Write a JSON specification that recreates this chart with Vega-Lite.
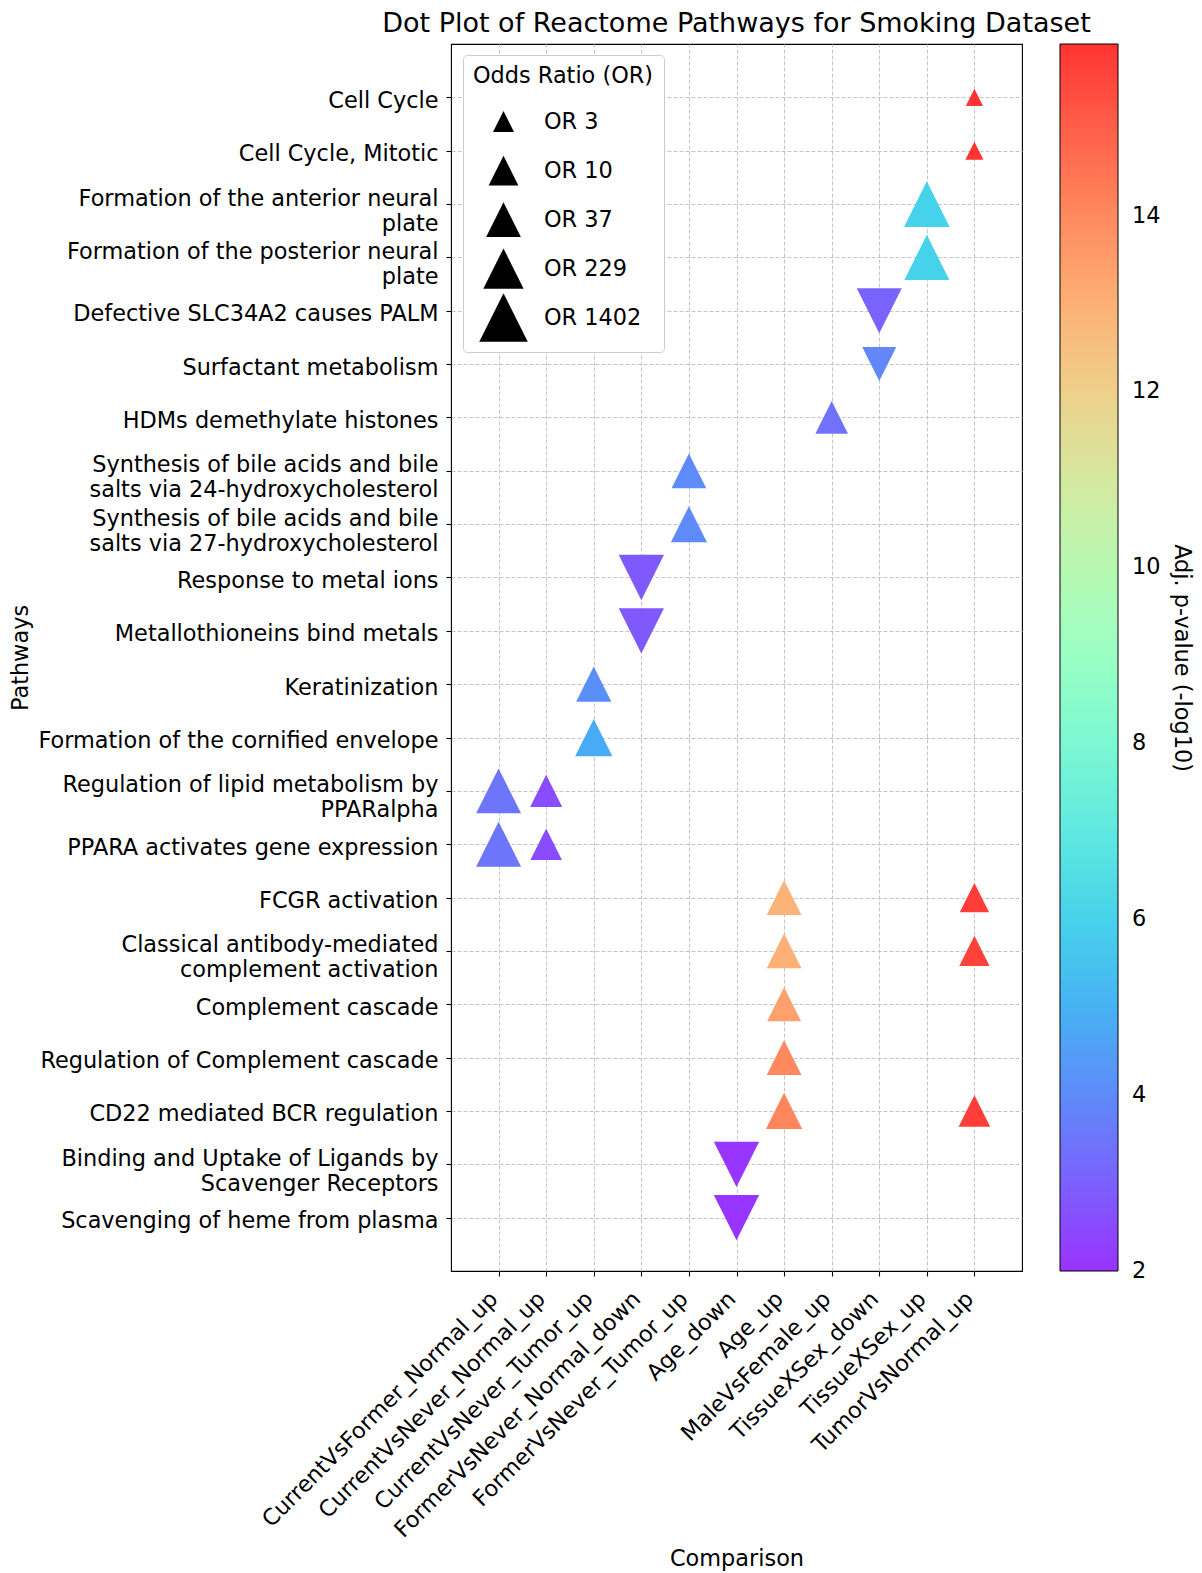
{
  "$schema": "https://vega.github.io/schema/vega-lite/v6.json",
  "autosize": "none",
  "width": 571,
  "height": 1227,
  "padding": {"left": 451, "top": 44, "right": 180, "bottom": 302},
  "background": "white",
  "title": {
    "text": "Dot Plot of Reactome Pathways for Smoking Dataset",
    "font": "DejaVu Sans",
    "fontSize": 27,
    "fontWeight": "normal",
    "color": "black",
    "anchor": "middle",
    "offset": 6
  },
  "config": {
    "view": {"stroke": "black", "strokeWidth": 1.1},
    "font": "DejaVu Sans",
    "axis": {
      "labelFont": "DejaVu Sans",
      "labelFontSize": 22.4,
      "labelColor": "black",
      "titleFont": "DejaVu Sans",
      "titleFontSize": 22.4,
      "titleFontWeight": "normal",
      "titleColor": "black",
      "domain": false,
      "tickColor": "black",
      "tickSize": 5,
      "tickWidth": 1.1,
      "grid": true,
      "gridColor": "#c4c4c4",
      "gridDash": [4, 2],
      "gridWidth": 1
    },
    "legend": {
      "labelFont": "DejaVu Sans",
      "titleFont": "DejaVu Sans",
      "labelColor": "black",
      "titleColor": "black",
      "gradientLabelOffset": 14
    }
  },
  "data": {
    "values": [
      {"pathway": "Cell Cycle", "comparison": "TumorVsNormal_up", "direction": "up", "odds_ratio": 2.0, "neg_log10_padj": 15.95},
      {"pathway": "Cell Cycle, Mitotic", "comparison": "TumorVsNormal_up", "direction": "up", "odds_ratio": 2.2, "neg_log10_padj": 15.9},
      {"pathway": "Formation of the anterior neural plate", "comparison": "TissueXSex_up", "direction": "up", "odds_ratio": 700, "neg_log10_padj": 6.0},
      {"pathway": "Formation of the posterior neural plate", "comparison": "TissueXSex_up", "direction": "up", "odds_ratio": 610, "neg_log10_padj": 6.0},
      {"pathway": "Defective SLC34A2 causes PALM", "comparison": "TissueXSex_down", "direction": "down", "odds_ratio": 600, "neg_log10_padj": 3.05},
      {"pathway": "Surfactant metabolism", "comparison": "TissueXSex_down", "direction": "down", "odds_ratio": 30, "neg_log10_padj": 3.9},
      {"pathway": "HDMs demethylate histones", "comparison": "MaleVsFemale_up", "direction": "up", "odds_ratio": 21, "neg_log10_padj": 3.4},
      {"pathway": "Synthesis of bile acids and bile salts via 24-hydroxycholesterol", "comparison": "FormerVsNever_Tumor_up", "direction": "up", "odds_ratio": 37, "neg_log10_padj": 4.0},
      {"pathway": "Synthesis of bile acids and bile salts via 27-hydroxycholesterol", "comparison": "FormerVsNever_Tumor_up", "direction": "up", "odds_ratio": 55, "neg_log10_padj": 4.0},
      {"pathway": "Response to metal ions", "comparison": "FormerVsNever_Normal_down", "direction": "down", "odds_ratio": 650, "neg_log10_padj": 2.85},
      {"pathway": "Metallothioneins bind metals", "comparison": "FormerVsNever_Normal_down", "direction": "down", "odds_ratio": 650, "neg_log10_padj": 2.85},
      {"pathway": "Keratinization", "comparison": "CurrentVsNever_Tumor_up", "direction": "up", "odds_ratio": 44, "neg_log10_padj": 4.1},
      {"pathway": "Formation of the cornified envelope", "comparison": "CurrentVsNever_Tumor_up", "direction": "up", "odds_ratio": 83, "neg_log10_padj": 4.8},
      {"pathway": "Regulation of lipid metabolism by PPARalpha", "comparison": "CurrentVsFormer_Normal_up", "direction": "up", "odds_ratio": 600, "neg_log10_padj": 3.5},
      {"pathway": "Regulation of lipid metabolism by PPARalpha", "comparison": "CurrentVsNever_Normal_up", "direction": "up", "odds_ratio": 18, "neg_log10_padj": 2.55},
      {"pathway": "PPARA activates gene expression", "comparison": "CurrentVsFormer_Normal_up", "direction": "up", "odds_ratio": 600, "neg_log10_padj": 3.5},
      {"pathway": "PPARA activates gene expression", "comparison": "CurrentVsNever_Normal_up", "direction": "up", "odds_ratio": 16, "neg_log10_padj": 2.55},
      {"pathway": "FCGR activation", "comparison": "Age_up", "direction": "up", "odds_ratio": 37, "neg_log10_padj": 12.9},
      {"pathway": "FCGR activation", "comparison": "TumorVsNormal_up", "direction": "up", "odds_ratio": 9.5, "neg_log10_padj": 15.7},
      {"pathway": "Classical antibody-mediated complement activation", "comparison": "Age_up", "direction": "up", "odds_ratio": 37, "neg_log10_padj": 13.0},
      {"pathway": "Classical antibody-mediated complement activation", "comparison": "TumorVsNormal_up", "direction": "up", "odds_ratio": 11.6, "neg_log10_padj": 15.6},
      {"pathway": "Complement cascade", "comparison": "Age_up", "direction": "up", "odds_ratio": 30, "neg_log10_padj": 13.4},
      {"pathway": "Regulation of Complement cascade", "comparison": "Age_up", "direction": "up", "odds_ratio": 37, "neg_log10_padj": 14.0},
      {"pathway": "CD22 mediated BCR regulation", "comparison": "Age_up", "direction": "up", "odds_ratio": 60, "neg_log10_padj": 14.1},
      {"pathway": "CD22 mediated BCR regulation", "comparison": "TumorVsNormal_up", "direction": "up", "odds_ratio": 16, "neg_log10_padj": 15.7},
      {"pathway": "Binding and Uptake of Ligands by Scavenger Receptors", "comparison": "Age_down", "direction": "down", "odds_ratio": 650, "neg_log10_padj": 2.05},
      {"pathway": "Scavenging of heme from plasma", "comparison": "Age_down", "direction": "down", "odds_ratio": 650, "neg_log10_padj": 2.02}
    ]
  },
  "mark": {"type": "point", "filled": true, "opacity": 1, "strokeWidth": 0},
  "encoding": {
    "x": {
      "field": "comparison",
      "type": "nominal",
      "sort": ["CurrentVsFormer_Normal_up", "CurrentVsNever_Normal_up", "CurrentVsNever_Tumor_up", "FormerVsNever_Normal_down", "FormerVsNever_Tumor_up", "Age_down", "Age_up", "MaleVsFemale_up", "TissueXSex_down", "TissueXSex_up", "TumorVsNormal_up"],
      "scale": {"type": "point", "padding": 1},
      "axis": {
        "title": "Comparison",
        "labelAngle": -45,
        "labelAlign": "right",
        "labelBaseline": "middle",
        "labelOffset": -5,
        "labelPadding": 19,
        "labelLimit": 500,
        "titleY": 287,
        "titleBaseline": "middle"
      }
    },
    "y": {
      "field": "pathway",
      "type": "nominal",
      "sort": ["Cell Cycle", "Cell Cycle, Mitotic", "Formation of the anterior neural plate", "Formation of the posterior neural plate", "Defective SLC34A2 causes PALM", "Surfactant metabolism", "HDMs demethylate histones", "Synthesis of bile acids and bile salts via 24-hydroxycholesterol", "Synthesis of bile acids and bile salts via 27-hydroxycholesterol", "Response to metal ions", "Metallothioneins bind metals", "Keratinization", "Formation of the cornified envelope", "Regulation of lipid metabolism by PPARalpha", "PPARA activates gene expression", "FCGR activation", "Classical antibody-mediated complement activation", "Complement cascade", "Regulation of Complement cascade", "CD22 mediated BCR regulation", "Binding and Uptake of Ligands by Scavenger Receptors", "Scavenging of heme from plasma"],
      "scale": {"type": "point", "padding": 1},
      "axis": {
        "title": "Pathways",
        "labelLimit": 500,
        "labelPadding": 8,
        "labelLineHeight": 25,
        "labelExpr": "datum.label == 'Formation of the anterior neural plate' ? ['Formation of the anterior neural', 'plate'] : datum.label == 'Formation of the posterior neural plate' ? ['Formation of the posterior neural', 'plate'] : datum.label == 'Synthesis of bile acids and bile salts via 24-hydroxycholesterol' ? ['Synthesis of bile acids and bile', 'salts via 24-hydroxycholesterol'] : datum.label == 'Synthesis of bile acids and bile salts via 27-hydroxycholesterol' ? ['Synthesis of bile acids and bile', 'salts via 27-hydroxycholesterol'] : datum.label == 'Regulation of lipid metabolism by PPARalpha' ? ['Regulation of lipid metabolism by', 'PPARalpha'] : datum.label == 'Classical antibody-mediated complement activation' ? ['Classical antibody-mediated', 'complement activation'] : datum.label == 'Binding and Uptake of Ligands by Scavenger Receptors' ? ['Binding and Uptake of Ligands by', 'Scavenger Receptors'] : datum.label",
        "encoding": {
          "labels": {"dy": {"condition": {"test": "length(datum.value) > 36", "value": -6}, "value": 3}}
        },
        "titleX": -431,
        "titleBaseline": "middle"
      }
    },
    "shape": {
      "field": "direction",
      "type": "nominal",
      "scale": {"domain": ["up", "down"], "range": ["M0,-1L1,1L-1,1Z", "M0,1L1,-1L-1,-1Z"]},
      "legend": null
    },
    "size": {
      "field": "odds_ratio",
      "type": "quantitative",
      "scale": {"type": "log", "domain": [3, 10, 37, 229, 1402], "range": [441, 882, 1204, 1624, 2372]},
      "legend": {
        "title": "Odds Ratio (OR)",
        "values": [3, 10, 37, 229, 1402],
        "labelExpr": "'OR ' + datum.value",
        "orient": "none",
        "legendX": 12,
        "legendY": 11,
        "direction": "vertical",
        "padding": 10,
        "fillColor": "white",
        "strokeColor": "#cccccc",
        "cornerRadius": 4,
        "titleFontSize": 22.4,
        "titleFontWeight": "normal",
        "titleLimit": 500,
        "titlePadding": 10,
        "labelFontSize": 22.4,
        "labelOffset": 16,
        "symbolOffset": 6,
        "clipHeight": 48.3,
        "rowPadding": 0,
        "symbolType": "M0,-1L1,1L-1,1Z",
        "symbolFillColor": "black",
        "symbolStrokeWidth": 0,
        "symbolOpacity": 1
      }
    },
    "color": {
      "field": "neg_log10_padj",
      "type": "quantitative",
      "scale": {
        "domain": [2, 3.395, 4.79, 6.185, 7.58, 8.975, 10.37, 11.765, 13.16, 14.555, 15.95],
        "range": ["#9933ff", "#7072fc", "#47abf5", "#47d8e9", "#70f5d8", "#99ffc3", "#c2f5ab", "#ebd890", "#ffab72", "#ff7253", "#ff3333"],
        "interpolate": "rgb"
      },
      "legend": {
        "title": "Adj. p-value (-log10)",
        "type": "gradient",
        "orient": "none",
        "legendX": 609,
        "legendY": 0,
        "direction": "vertical",
        "padding": 0,
        "gradientLength": 1227,
        "gradientThickness": 58,
        "gradientStrokeColor": "black",
        "gradientStrokeWidth": 1,
        "values": [2, 4, 6, 8, 10, 12, 14],
        "format": "d",
        "labelFontSize": 22.4,
        "labelOffset": 14,
        "labelOverlap": false,
        "labelLimit": 200,
        "titleOrient": "right",
        "titleAngle": 270,
        "titleAnchor": "middle",
        "titleBaseline": "middle",
        "titleFontSize": 22.4,
        "titleFontWeight": "normal",
        "titleLimit": 1000,
        "titlePadding": 22,
        "encoding": {
          "labels": {"baseline": {"value": "middle"}}
        }
      }
    }
  }
}
